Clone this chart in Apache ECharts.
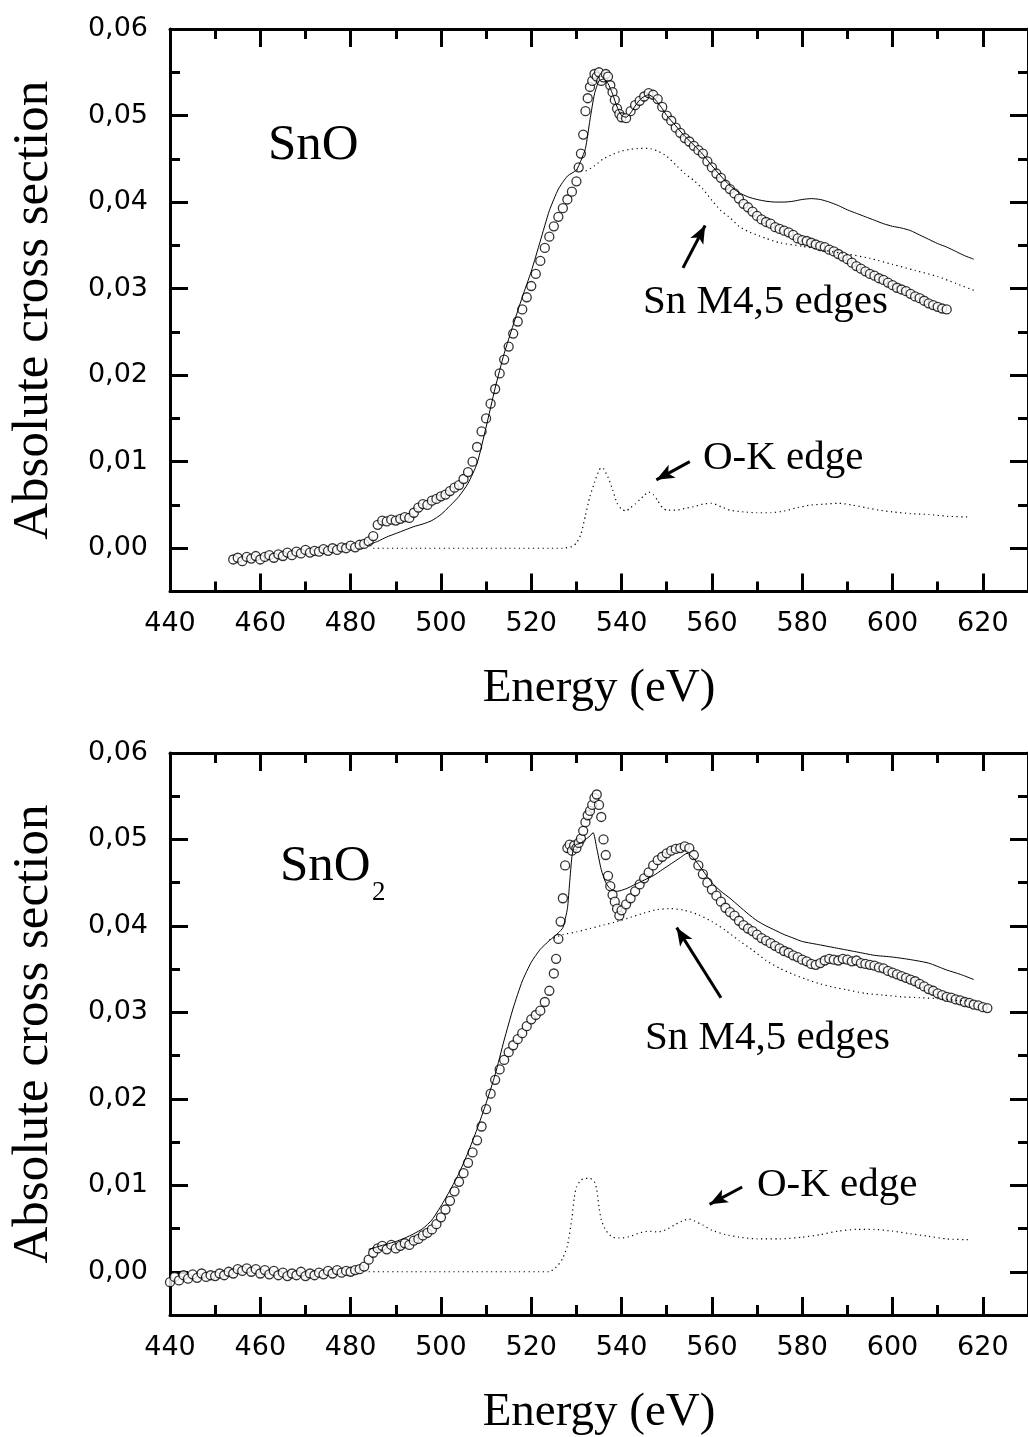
<!DOCTYPE html>
<html>
<head>
<meta charset="utf-8">
<script src="https://cdn.jsdelivr.net/npm/echarts@6/dist/echarts.min.js"></script>
<style>html,body{margin:0;padding:0;background:#fff;}#c{width:1028px;height:1437px;}</style>
</head>
<body>
<div id="c"></div>
<script>
// ---------- tick values ----------
const xMajorTicks = [440, 460, 480, 500, 520, 540, 560, 580, 600, 620];
const xMinorTicks = [450, 470, 490, 510, 530, 550, 570, 590, 610];
const yMajorTicks = [0, 0.01, 0.02, 0.03, 0.04, 0.05, 0.06];
const yMinorTicks = [0.005, 0.015, 0.025, 0.035, 0.045, 0.055];

// ---------- SnO (top panel) ----------
const snoExp = [
[454,-0.0013],[455,-0.0011],[456,-0.0015],[457,-0.0010],[458,-0.0012],[459,-0.0009],[460,-0.0013],[461,-0.0010],
[462,-0.0008],[463,-0.0011],[464,-0.0007],[465,-0.0009],[466,-0.0005],[467,-0.0008],[468,-0.0004],[469,-0.0006],
[470,-0.0002],[471,-0.0005],[472,-0.0003],[473,-0.0004],[474,-0.0001],[475,-0.0003],[476,0.0000],[477,-0.0002],
[478,0.0001],[479,0.0000],[480,0.0003],[481,0.0001],[482,0.0004],[483,0.0005],[484,0.0008],[485,0.0014],
[486,0.0027],[487,0.0032],[488,0.0031],[489,0.0033],[490,0.0032],[491,0.0034],[492,0.0036],[493,0.0035],
[494,0.0041],[495,0.0047],[496,0.0051],[497,0.0050],[498,0.0055],[499,0.0057],[500,0.0060],[501,0.0062],
[502,0.0066],[503,0.0070],[504,0.0073],[505,0.0080],[506,0.0088],[507,0.0100],[508,0.0117],[509,0.0135],
[510,0.0150],[511,0.0167],[512,0.0184],[513,0.0202],[514,0.0218],[515,0.0233],[516,0.0248],[517,0.0262],
[518,0.0276],[519,0.0290],[520,0.0303],[521,0.0317],[522,0.0332],[523,0.0347],[524,0.0360],[525,0.0372],
[526,0.0383],[527,0.0393],[528,0.0403],[529,0.0412],[530,0.0424],[530.5,0.0440],[531,0.0456],[531.5,0.0478],
[532,0.0505],[532.5,0.0520],[533,0.0533],[533.5,0.0540],[534,0.0548],[534.5,0.0545],[535,0.0550],[535.5,0.0540],
[536,0.0544],[536.5,0.0548],[537,0.0545],[537.5,0.0535],[538,0.0527],[538.5,0.0518],[539,0.0508],[539.5,0.0502],
[540,0.0498],[541,0.0497],[542,0.0505],[543,0.0512],[544,0.0517],[545,0.0522],[546,0.0526],[547,0.0524],
[548,0.0519],[549,0.0510],[550,0.0500],[551,0.0494],[552,0.0486],[553,0.0480],[554,0.0474],[555,0.0470],
[556,0.0465],[557,0.0460],[558,0.0456],[559,0.0447],[560,0.0440],[561,0.0433],[562,0.0428],[563,0.0420],
[564,0.0415],[565,0.0410],[566,0.0404],[567,0.0398],[568,0.0394],[569,0.0389],[570,0.0384],[571,0.0380],
[572,0.0377],[573,0.0375],[574,0.0371],[575,0.0369],[576,0.0367],[577,0.0365],[578,0.0362],[579,0.0358],
[580,0.0356],[581,0.0355],[582,0.0353],[583,0.0351],[584,0.0349],[585,0.0348],[586,0.0345],[587,0.0343],
[588,0.0340],[589,0.0337],[590,0.0334],[591,0.0330],[592,0.0326],[593,0.0323],[594,0.0320],[595,0.0317],
[596,0.0315],[597,0.0312],[598,0.0310],[599,0.0307],[600,0.0304],[601,0.0301],[602,0.0299],[603,0.0297],
[604,0.0294],[605,0.0291],[606,0.0289],[607,0.0286],[608,0.0283],[609,0.0281],[610,0.0279],[611,0.0277],
[612,0.0276]
];
const snoTotal = [
[484,0.0004],[486,0.0008],[488,0.0013],[490,0.0017],[492,0.0021],[494,0.0025],[496,0.0028],[498,0.0032],
[500,0.0039],[502,0.0049],[504,0.0060],[506,0.0075],[508,0.0098],[510,0.0140],[512,0.0185],[514,0.0225],
[516,0.0258],[518,0.0290],[520,0.0320],[522,0.0355],[524,0.0390],[526,0.0415],[528,0.0430],[530,0.0437],
[531,0.0448],[532,0.0462],[533,0.0495],[534,0.0525],[535,0.0540],[536,0.0542],[537,0.0537],[538,0.0525],
[539,0.0510],[540,0.0500],[541,0.0498],[542,0.0503],[543,0.0511],[544,0.0518],[545,0.0522],[546,0.0524],
[547,0.0521],[548,0.0515],[549,0.0508],[550,0.0500],[552,0.0488],[554,0.0476],[556,0.0466],[558,0.0455],
[560,0.0442],[562,0.0430],[564,0.0419],[566,0.0411],[568,0.0406],[570,0.0403],[572,0.0401],[574,0.0400],
[576,0.0400],[578,0.0401],[580,0.0403],[582,0.0404],[584,0.0403],[586,0.0400],[588,0.0396],[590,0.0391],
[592,0.0387],[594,0.0383],[596,0.0379],[598,0.0375],[600,0.0372],[602,0.0370],[604,0.0367],[606,0.0362],
[608,0.0357],[610,0.0352],[612,0.0348],[614,0.0343],[616,0.0338],[618,0.0334]
];
const snoSnM45 = [
[530,0.0437],[532,0.0436],[534,0.0442],[536,0.0450],[538,0.0455],[540,0.0459],[542,0.0461],[544,0.0462],
[546,0.0462],[548,0.0459],[550,0.0453],[552,0.0443],[554,0.0433],[556,0.0425],[558,0.0415],[560,0.0402],
[562,0.0390],[564,0.0382],[566,0.0372],[568,0.0366],[570,0.0362],[572,0.0358],[575,0.0353],[580,0.0349],
[585,0.0344],[590,0.0340],[595,0.0335],[600,0.0328],[605,0.0321],[610,0.0314],[614,0.0306],[618,0.0298]
];
const snoOK = [
[485,0.0000],[495,0.0000],[505,0.0000],[515,0.0000],[527,0.0000],[529,0.0002],[530,0.0006],[531,0.0016],
[532,0.0038],[533,0.0060],[534,0.0076],[535,0.0090],[535.5,0.0093],[536,0.0092],[537,0.0082],[538,0.0068],
[539,0.0052],[540,0.0045],[541,0.0043],[542,0.0047],[543,0.0051],[544,0.0056],[545,0.0061],[546,0.0065],
[547,0.0062],[548,0.0055],[549,0.0047],[550,0.0044],[552,0.0044],[554,0.0046],[556,0.0048],[558,0.0051],
[560,0.0052],[562,0.0048],[564,0.0044],[567,0.0042],[570,0.0041],[573,0.0041],[576,0.0043],[579,0.0047],
[582,0.0050],[585,0.0051],[588,0.0052],[591,0.0050],[594,0.0047],[597,0.0044],[600,0.0042],[604,0.0040],
[608,0.0039],[612,0.0037],[617,0.0036]
];

// ---------- SnO2 (bottom panel) ----------
const sno2Exp = [
[440,-0.0012],[441,-0.0006],[442,-0.0010],[443,-0.0004],[444,-0.0008],[445,-0.0003],[446,-0.0007],[447,-0.0002],
[448,-0.0006],[449,-0.0004],[450,-0.0005],[451,-0.0002],[452,-0.0004],[453,0.0000],[454,-0.0002],[455,0.0003],
[456,0.0001],[457,0.0004],[458,0.0000],[459,0.0003],[460,-0.0002],[461,0.0002],[462,-0.0003],[463,0.0001],
[464,-0.0004],[465,-0.0001],[466,-0.0005],[467,-0.0002],[468,-0.0004],[469,0.0000],[470,-0.0005],[471,-0.0002],
[472,-0.0004],[473,-0.0001],[474,-0.0003],[475,0.0001],[476,-0.0002],[477,0.0002],[478,-0.0001],[479,0.0001],
[480,0.0000],[481,0.0002],[482,0.0003],[483,0.0006],[484,0.0014],[485,0.0022],[486,0.0027],[487,0.0030],
[488,0.0026],[489,0.0031],[490,0.0027],[491,0.0030],[492,0.0033],[493,0.0031],[494,0.0036],[495,0.0038],
[496,0.0042],[497,0.0045],[498,0.0049],[499,0.0055],[500,0.0063],[501,0.0072],[502,0.0082],[503,0.0093],
[504,0.0104],[505,0.0114],[506,0.0126],[507,0.0138],[508,0.0152],[509,0.0168],[510,0.0188],[511,0.0206],
[512,0.0222],[513,0.0234],[514,0.0245],[515,0.0254],[516,0.0262],[517,0.0269],[518,0.0276],[519,0.0284],
[520,0.0292],[521,0.0297],[522,0.0302],[523,0.0312],[524,0.0325],[525,0.0345],[525.5,0.0362],[526,0.0385],
[526.5,0.0405],[527,0.0432],[527.5,0.0470],[528,0.0490],[528.5,0.0494],[529,0.0487],[529.5,0.0493],[530,0.0490],
[530.5,0.0496],[531,0.0501],[531.5,0.0510],[532,0.0520],[532.5,0.0528],[533,0.0533],[533.5,0.0540],[534,0.0548],
[534.5,0.0552],[535,0.0540],[535.5,0.0526],[536,0.0500],[536.5,0.0482],[537,0.0458],[537.5,0.0446],[538,0.0436],
[538.5,0.0428],[539,0.0420],[539.5,0.0412],[540,0.0418],[541,0.0425],[542,0.0432],[543,0.0440],[544,0.0448],
[545,0.0455],[546,0.0462],[547,0.0470],[548,0.0476],[549,0.0480],[550,0.0484],[551,0.0487],[552,0.0489],
[553,0.0490],[554,0.0492],[555,0.0490],[556,0.0482],[557,0.0470],[558,0.0460],[559,0.0450],[560,0.0442],
[561,0.0435],[562,0.0428],[563,0.0421],[564,0.0416],[565,0.0412],[566,0.0406],[567,0.0401],[568,0.0397],
[569,0.0394],[570,0.0390],[571,0.0386],[572,0.0383],[573,0.0380],[574,0.0377],[575,0.0374],[576,0.0371],
[577,0.0369],[578,0.0366],[579,0.0364],[580,0.0361],[581,0.0359],[582,0.0356],[583,0.0355],[584,0.0357],
[585,0.0360],[586,0.0362],[587,0.0361],[588,0.0360],[589,0.0362],[590,0.0361],[591,0.0359],[592,0.0360],
[593,0.0357],[594,0.0356],[595,0.0355],[596,0.0354],[597,0.0352],[598,0.0351],[599,0.0348],[600,0.0346],
[601,0.0344],[602,0.0342],[603,0.0340],[604,0.0338],[605,0.0336],[606,0.0333],[607,0.0330],[608,0.0327],
[609,0.0325],[610,0.0322],[611,0.0320],[612,0.0318],[613,0.0317],[614,0.0315],[615,0.0314],[616,0.0312],
[617,0.0311],[618,0.0309],[619,0.0308],[620,0.0306],[621,0.0305]
];
const sno2Total = [
[484,0.0026],[486,0.0029],[488,0.0032],[490,0.0035],[492,0.0039],[494,0.0044],[496,0.0050],[498,0.0060],
[500,0.0076],[502,0.0094],[504,0.0114],[506,0.0138],[508,0.0165],[510,0.0195],[512,0.0228],[514,0.0268],
[516,0.0305],[518,0.0336],[520,0.0358],[522,0.0373],[524,0.0383],[526,0.0392],[527,0.0398],[528,0.0420],
[528.5,0.0450],[529,0.0480],[529.5,0.0492],[530,0.0494],[531,0.0496],[532,0.0500],[533,0.0504],[533.7,0.0508],
[534.5,0.0490],[535.5,0.0465],[536.5,0.0450],[537.5,0.0443],[539,0.0440],[541,0.0443],[543,0.0448],[545,0.0453],
[547,0.0458],[549,0.0465],[551,0.0472],[553,0.0479],[554.5,0.0484],[556,0.0478],[558,0.0464],[560,0.0450],
[562,0.0440],[564,0.0432],[566,0.0423],[568,0.0414],[570,0.0406],[572,0.0400],[574,0.0395],[576,0.0390],
[578,0.0386],[580,0.0382],[584,0.0378],[588,0.0374],[592,0.0370],[596,0.0366],[600,0.0364],[604,0.0361],
[608,0.0357],[612,0.0349],[615,0.0344],[618,0.0338]
];
const sno2SnM45 = [
[524,0.0384],[527,0.0390],[530,0.0393],[533,0.0397],[536,0.0401],[539,0.0405],[542,0.0410],[545,0.0415],
[548,0.0419],[551,0.0420],[554,0.0418],[557,0.0413],[560,0.0405],[563,0.0395],[566,0.0383],[569,0.0372],
[572,0.0360],[575,0.0351],[578,0.0344],[581,0.0338],[584,0.0333],[587,0.0329],[590,0.0326],[594,0.0322],
[598,0.0320],[602,0.0318],[606,0.0317],[610,0.0316],[614,0.0314],[618,0.0313]
];
const sno2OK = [
[484,0.0000],[494,0.0000],[504,0.0000],[514,0.0000],[524,0.0000],[526,0.0008],[527,0.0016],[528,0.0030],
[529,0.0062],[529.5,0.0085],[530,0.0098],[531,0.0106],[532,0.0108],[533,0.0108],[534,0.0104],[534.5,0.0095],
[535,0.0075],[535.5,0.0060],[536.5,0.0048],[538,0.0040],[540,0.0039],[542,0.0041],[544,0.0045],[546,0.0047],
[548,0.0046],[550,0.0049],[552,0.0055],[554,0.0060],[555,0.0061],[556,0.0059],[558,0.0054],[560,0.0048],
[563,0.0043],[566,0.0040],[570,0.0038],[575,0.0038],[580,0.0040],[584,0.0043],[588,0.0047],[592,0.0049],
[596,0.0049],[600,0.0047],[604,0.0044],[608,0.0041],[612,0.0038],[617,0.0037]
];

// arrows (data coordinates: [tail, head])
const snoArrows = [[[553.6,0.0324],[558.5,0.0373]], [[555.1,0.0100],[547.7,0.0079]]];
const sno2Arrows = [[[562.0,0.0317],[552.2,0.0398]], [[566.7,0.0098],[559.5,0.0078]]];

// ---------- chart ----------
const chart = echarts.init(document.getElementById('c'), null, {renderer: 'canvas'});
const grids = [
  {left: 170, top: 29, width: 861, height: 562.5},
  {left: 170, top: 753, width: 861, height: 563}
];
const lineW = 3;
const tickFont = 'DejaVu Sans';
function xAxesFor(g) {
  const base = {type: 'value', gridIndex: g, min: 440, max: 630, splitLine: {show: false}, scale: true};
  return [
    Object.assign({}, base, {position: 'bottom',
      axisLine: {show: true, onZero: false, lineStyle: {color: '#000', width: lineW}},
      axisTick: {show: true, inside: true, length: 18, customValues: xMajorTicks, lineStyle: {color: '#000', width: lineW}},
      axisLabel: {show: true, customValues: xMajorTicks, margin: 19, color: '#000', fontFamily: tickFont, fontSize: 27},
      name: 'Energy (eV)', nameLocation: 'middle', nameGap: 74,
      nameTextStyle: {color: '#000', fontFamily: 'Liberation Serif', fontSize: 47}}),
    Object.assign({}, base, {position: 'bottom',
      axisLine: {show: false, onZero: false},
      axisTick: {show: true, inside: true, length: 10, customValues: xMinorTicks, lineStyle: {color: '#000', width: lineW}},
      axisLabel: {show: false}}),
    Object.assign({}, base, {position: 'top',
      axisLine: {show: true, onZero: false, lineStyle: {color: '#000', width: lineW}},
      axisTick: {show: true, inside: true, length: 18, customValues: xMajorTicks, lineStyle: {color: '#000', width: lineW}},
      axisLabel: {show: false}}),
    Object.assign({}, base, {position: 'top',
      axisLine: {show: false, onZero: false},
      axisTick: {show: true, inside: true, length: 10, customValues: xMinorTicks, lineStyle: {color: '#000', width: lineW}},
      axisLabel: {show: false}})
  ];
}
function yAxesFor(g) {
  const base = {type: 'value', gridIndex: g, min: -0.005, max: 0.06, splitLine: {show: false}};
  return [
    Object.assign({}, base, {position: 'left',
      axisLine: {show: true, onZero: false, lineStyle: {color: '#000', width: lineW}},
      axisTick: {show: true, inside: true, length: 18, customValues: yMajorTicks, lineStyle: {color: '#000', width: lineW}},
      axisLabel: {show: true, customValues: yMajorTicks, margin: 22, color: '#000', fontFamily: tickFont, fontSize: 27,
        formatter: v => v.toFixed(2).replace('.', ',')},
      name: 'Absolute cross section', nameLocation: 'middle', nameGap: 111,
      nameTextStyle: {color: '#000', fontFamily: 'Liberation Serif', fontSize: 51}}),
    Object.assign({}, base, {position: 'left',
      axisLine: {show: false, onZero: false},
      axisTick: {show: true, inside: true, length: 10, customValues: yMinorTicks, lineStyle: {color: '#000', width: lineW}},
      axisLabel: {show: false}}),
    Object.assign({}, base, {position: 'right',
      axisLine: {show: true, onZero: false, lineStyle: {color: '#000', width: lineW}},
      axisTick: {show: true, inside: true, length: 18, customValues: yMajorTicks, lineStyle: {color: '#000', width: lineW}},
      axisLabel: {show: false}}),
    Object.assign({}, base, {position: 'right',
      axisLine: {show: false, onZero: false},
      axisTick: {show: true, inside: true, length: 10, customValues: yMinorTicks, lineStyle: {color: '#000', width: lineW}},
      axisLabel: {show: false}})
  ];
}
function seriesFor(g, exp, total, sn, ok, arrows) {
  const xi = g * 4, yi = g * 4;
  return [
    {type: 'scatter', xAxisIndex: xi, yAxisIndex: yi, data: exp, symbol: 'circle', symbolSize: 9,
      itemStyle: {color: '#fff', borderColor: '#000', borderWidth: 1.3}, z: 2, silent: true},
    {type: 'line', xAxisIndex: xi, yAxisIndex: yi, data: total, showSymbol: false, smooth: 0.2,
      lineStyle: {color: '#000', width: 1}, z: 3, silent: true},
    {type: 'line', xAxisIndex: xi, yAxisIndex: yi, data: sn, showSymbol: false, smooth: 0.2,
      lineStyle: {color: '#000', width: 1.2, type: [1.2, 3.5]}, z: 3, silent: true},
    {type: 'line', xAxisIndex: xi, yAxisIndex: yi, data: ok, showSymbol: false, smooth: 0.2,
      lineStyle: {color: '#000', width: 1.2, type: [1.2, 3.5]}, z: 3, silent: true,
      markLine: {silent: true, symbol: ['none', 'arrow'], symbolSize: [11, 18], animation: false,
        label: {show: false},
        lineStyle: {type: 'solid', color: '#000', width: 3},
        data: arrows.map(a => [{coord: a[0]}, {coord: a[1]}])}}
  ];
}
const serif = '"Liberation Serif", "Times New Roman", serif';
const option = {
  backgroundColor: '#fff',
  animation: false,
  grid: grids,
  xAxis: xAxesFor(0).concat(xAxesFor(1)),
  yAxis: yAxesFor(0).concat(yAxesFor(1)),
  series: seriesFor(0, snoExp, snoTotal, snoSnM45, snoOK, snoArrows)
    .concat(seriesFor(1, sno2Exp, sno2Total, sno2SnM45, sno2OK, sno2Arrows)),
  graphic: [
    {type: 'text', left: 268, top: 120, style: {text: 'SnO', font: '51px ' + serif, fill: '#000'}},
    {type: 'text', left: 280, top: 841, style: {text: 'SnO', font: '51px ' + serif, fill: '#000'}},
    {type: 'text', left: 372, top: 879, style: {text: '2', font: '27px ' + serif, fill: '#000'}},
    {type: 'text', left: 643, top: 282, style: {text: 'Sn M4,5 edges', font: '41px ' + serif, fill: '#000'}},
    {type: 'text', left: 645, top: 1018, style: {text: 'Sn M4,5 edges', font: '41px ' + serif, fill: '#000'}},
    {type: 'text', left: 703, top: 438, style: {text: 'O-K edge', font: '41px ' + serif, fill: '#000'}},
    {type: 'text', left: 757, top: 1165, style: {text: 'O-K edge', font: '41px ' + serif, fill: '#000'}}
  ]
};
chart.setOption(option);
</script>
</body>
</html>
